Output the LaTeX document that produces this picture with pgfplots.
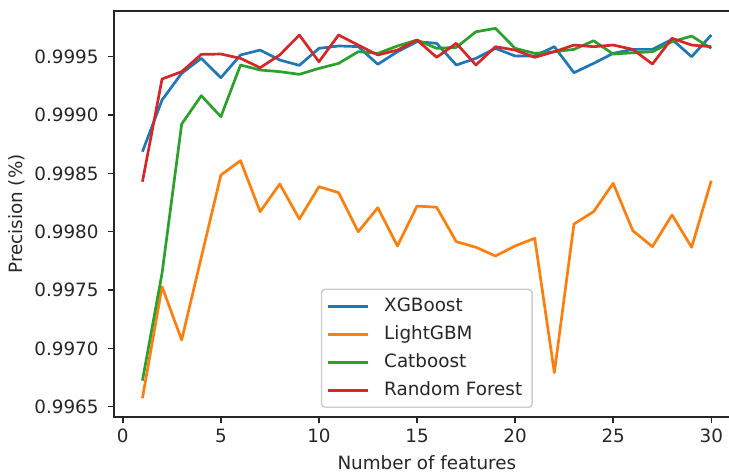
\documentclass[border=0pt]{standalone}
\usepackage{fontspec}
\setmainfont{DejaVu Sans}
\usepackage{pgfplots}
\pgfplotsset{compat=1.18}
\definecolor{cXGB}{HTML}{1F77B4}
\definecolor{cLGB}{HTML}{FF7F0E}
\definecolor{cCAT}{HTML}{2CA02C}
\definecolor{cRF}{HTML}{D62728}
\definecolor{cLeg}{HTML}{CCCCCC}
\pgfplotstableread{
n xgb lgb cat rf
1 0.998686 0.996573 0.996724 0.998429
2 0.999129 0.997529 0.997644 0.999309
3 0.999358 0.997072 0.998923 0.999372
4 0.999486 0.997780 0.999166 0.999520
5 0.999320 0.998486 0.998986 0.999523
6 0.999515 0.998609 0.999429 0.999486
7 0.999557 0.998172 0.999386 0.999406
8 0.999472 0.998409 0.999372 0.999515
9 0.999426 0.998109 0.999349 0.999686
10 0.999572 0.998386 0.999400 0.999457
11 0.999592 0.998335 0.999443 0.999686
12 0.999587 0.998000 0.999543 0.999600
13 0.999435 0.998206 0.999529 0.999515
14 0.999543 0.997878 0.999592 0.999557
15 0.999629 0.998220 0.999643 0.999643
16 0.999615 0.998210 0.999572 0.999495
17 0.999429 0.997915 0.999580 0.999615
18 0.999486 0.997867 0.999714 0.999429
19 0.999572 0.997792 0.999743 0.999586
20 0.999506 0.997878 0.999572 0.999557
21 0.999506 0.997944 0.999529 0.999495
22 0.999586 0.996792 0.999543 0.999543
23 0.999363 0.998066 0.999563 0.999600
24 0.999443 0.998172 0.999637 0.999586
25 0.999529 0.998415 0.999523 0.999600
26 0.999563 0.998009 0.999534 0.999563
27 0.999563 0.997872 0.999543 0.999437
28 0.999649 0.998144 0.999629 0.999658
29 0.999500 0.997867 0.999677 0.999600
30 0.999686 0.998437 0.999572 0.999586
}\datatable
\begin{document}
\begin{tikzpicture}
\useasboundingbox (-114bp,-57bp) rectangle (615bp,417bp);
\begin{axis}[
  at={(0,0)}, anchor=south west,
  scale only axis,
  width=625.7bp, height=406bp,
  xmin=-0.45, xmax=31.45,
  ymin=0.996412, ymax=0.999892,
  font=\fontsize{18.4}{22}\selectfont,
  /pgf/number format/assume math mode=true,
  axis line style={line width=1.44bp, black!85},
  tick style={line width=1.44bp, black!85},
  tick align=outside,
  major tick length=6.3bp,
  xtick pos=bottom, ytick pos=left,
  xtick={0,5,10,15,20,25,30},
  xticklabels={0,5,10,15,20,25,30},
  ytick={0.9965,0.9970,0.9975,0.9980,0.9985,0.9990,0.9995},
  yticklabels={0.9965,0.9970,0.9975,0.9980,0.9985,0.9990,0.9995},
  scaled y ticks=false,
  xticklabel style={anchor=north, inner sep=0pt, text height=13.4bp, text depth=0pt, yshift=-6bp, text=black!85},
  yticklabel style={anchor=east, inner sep=0pt, text height=13.4bp, text depth=0pt, xshift=-9bp, text=black!85},
  xlabel={Number of features},
  ylabel={Precision (\%)},
  xlabel style={at={(axis description cs:0.5,-0.1288)}, anchor=base, inner sep=0pt, text=black!85},
  ylabel style={at={(axis description cs:-0.1470,0.5)}, anchor=base, inner sep=0pt, rotate=0, text=black!85},
  legend style={
    at={(0.5,0.0222)}, anchor=south,
    font=\fontsize{18.4}{22}\selectfont,
    draw=cLeg, line width=1.44bp, rounded corners=3.7bp,
    fill=white, fill opacity=0.8, text opacity=1,
    inner xsep=5bp, inner ysep=8bp,
    row sep=10bp, column sep=10bp,
    nodes={inner ysep=0pt, inner xsep=5bp, text height=14bp, text depth=4bp, text=black!85},
  },
  legend cell align=left,
  legend image code/.code={\draw[#1, line width=2.7bp, line cap=butt] (0bp,0bp) -- (40bp,0bp);},
  every axis plot/.append style={line width=2.7bp, line join=round, no markers},
]
\addplot[cXGB] table[x=n, y=xgb] {\datatable};
\addlegendentry{XGBoost}
\addplot[cLGB] table[x=n, y=lgb] {\datatable};
\addlegendentry{LightGBM}
\addplot[cCAT] table[x=n, y=cat] {\datatable};
\addlegendentry{Catboost}
\addplot[cRF] table[x=n, y=rf] {\datatable};
\addlegendentry{Random Forest}
\end{axis}
\end{tikzpicture}
\end{document}
